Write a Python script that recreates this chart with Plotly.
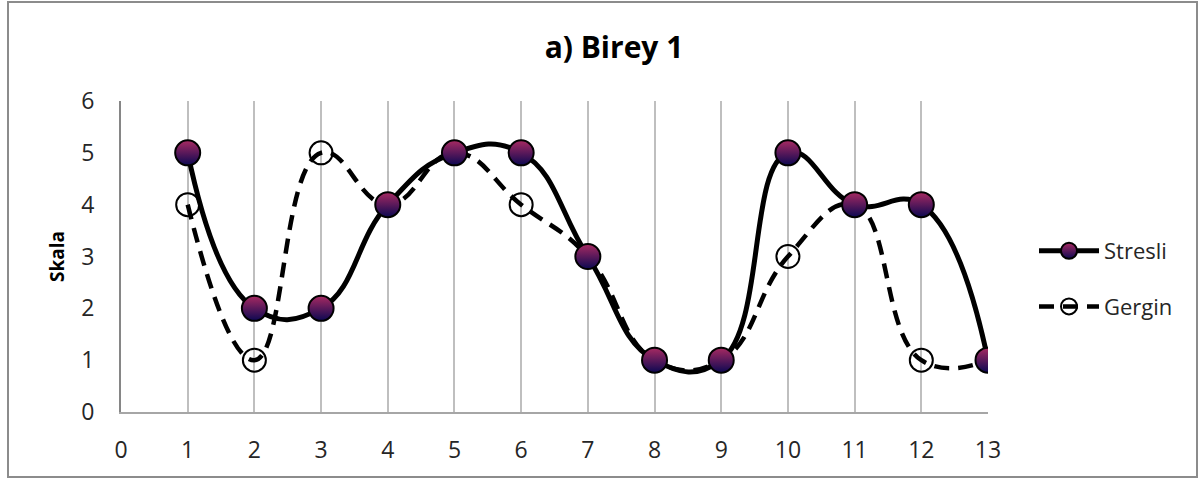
import plotly.graph_objects as go

# Survey scores per item for one participant
items = list(range(1, 14))
stresli = [5, 2, 2, 4, 5, 5, 3, 1, 1, 5, 4, 4, 1]
gergin = [4, 1, 5, 4, 5, 4, 3, 1, 1, 3, 4, 1, 1]

x_ticks = list(range(0, 14))
y_ticks = list(range(0, 7))

FONT = "Open Sans"
TICK_FONT = dict(family=FONT, size=23, color="#262626")

fig = go.Figure()

fig.add_trace(go.Scatter(
    x=items, y=gergin, name="Gergin", mode="lines+markers",
    line=dict(color="black", width=4.5, dash="15px,9px", shape="spline", smoothing=1.3),
    marker=dict(symbol="circle-open", size=23, color="black",
                line=dict(color="black", width=2)),
    legendrank=2, legendgroup="g",
))

fig.add_trace(go.Scatter(
    x=items, y=stresli, name="Stresli", mode="lines+markers",
    line=dict(color="black", width=5, shape="spline", smoothing=1.3),
    marker=dict(symbol="circle", size=25, color="#a82a62",
                gradient=dict(type="vertical", color="#0c0852"),
                line=dict(color="black", width=2)),
    legendrank=1, legendgroup="s",
))

L, R, T, B = 121, 214, 101, 68
W, H = 1202, 480
pw, ph = W - L - R, H - T - B

fig.update_layout(
    width=W, height=H,
    margin=dict(l=L, r=R, t=T, b=B),
    paper_bgcolor="white", plot_bgcolor="white",
    font=dict(family=FONT, size=22, color="#262626"),
    title=dict(text="<b>a) Birey 1</b>", x=614 / W, xanchor="center",
               y=1 - 47 / H, yanchor="middle",
               font=dict(family=FONT, size=30, color="black")),
    showlegend=True,
    legend=dict(x=(1034 - L) / pw, xanchor="left", y=(412 - 230) / ph, yanchor="top",
                font=dict(family=FONT, size=22, color="#262626"),
                traceorder="grouped", tracegroupgap=24,
                itemwidth=60, bgcolor="rgba(0,0,0,0)"),
    xaxis=dict(range=[0, 13], tickvals=x_ticks, ticktext=[str(v) for v in x_ticks],
               tickfont=TICK_FONT,
               showgrid=True, gridcolor="#bfbfbf", gridwidth=2,
               showline=True, linecolor="#a6a6a6", linewidth=2,
               zeroline=False, ticks="", ticklabelstandoff=16),
    yaxis=dict(range=[0, 6], tickvals=y_ticks, ticktext=[str(v) for v in y_ticks],
               tickfont=TICK_FONT,
               showgrid=False, showline=True, linecolor="#868686", linewidth=2,
               zeroline=False, ticks="", ticklabelstandoff=20,
               title=dict(text="<b>Skala</b>", font=dict(family=FONT, size=19, color="black"),
                          standoff=12)),
    shapes=[dict(type="rect", xref="paper", yref="paper",
                 x0=(8 - L) / pw, x1=(1197 - L) / pw,
                 y0=(412 - 477) / ph, y1=(412 - 2) / ph,
                 line=dict(color="#8c8c8c", width=2), fillcolor="rgba(0,0,0,0)",
                 layer="below")],
)

fig.write_html("out.html")
